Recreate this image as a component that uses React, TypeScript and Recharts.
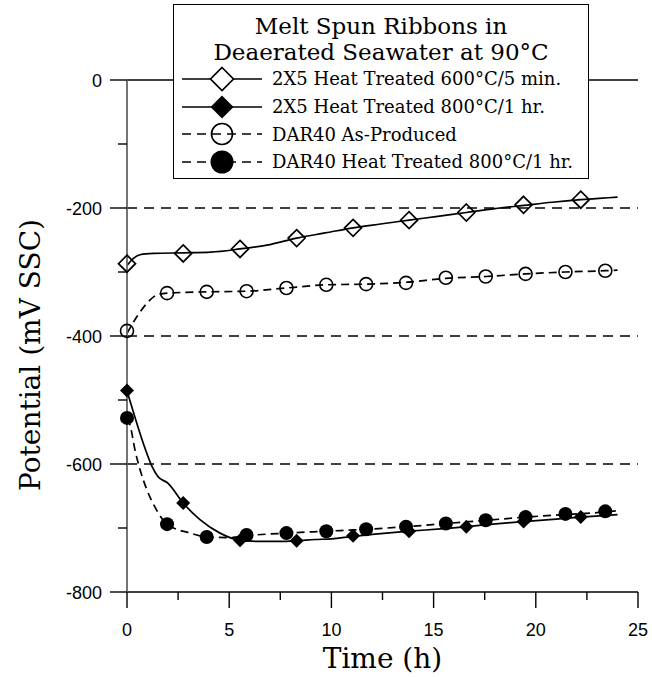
import {
  CartesianGrid,
  ComposedChart,
  Legend,
  Line,
  ReferenceLine,
  Scatter,
  XAxis,
  YAxis
} from "recharts";

// curves (time in h, potential in mV SSC)
const ht600Time = [0, 0.3, 0.64, 1.3, 2.75, 4.1, 5.53, 6.85, 8.3, 9.7, 11.06, 12.4, 13.8, 15.2, 16.6, 18, 19.4, 20.8, 22.2, 23.1, 24];
const ht600Pot = [-290, -279, -273, -271, -270, -269, -264, -258, -247, -239, -231, -225, -219, -213, -207, -201, -196, -191, -187, -185, -183];

const ht800Time = [0, 0.39, 0.8, 1.2, 1.5, 2, 2.75, 3.57, 4.55, 5.5, 6.5, 7.5, 8.3, 9.2, 10, 11.06, 12, 13.8, 15.5, 17.5, 19.4, 21, 22.2, 24];
const ht800Pot = [-486, -527, -568, -602, -619, -630, -661, -687, -708, -719, -721, -721, -720, -718, -717, -713, -710, -705, -701, -695, -690, -686, -683, -679];

const darAsTime = [0, 0.48, 0.97, 1.45, 1.96, 3.9, 5.85, 7.8, 9.75, 11.7, 13.65, 15.6, 17.55, 19.5, 21.45, 23.4, 24];
const darAsPot = [-396, -370, -349, -336, -333, -331, -330, -325, -320, -319, -316, -310, -307, -303, -300, -298, -297];

const darHtTime = [0, 0.15, 0.39, 0.64, 0.97, 1.45, 1.96, 3.1, 3.9, 5, 5.85, 7.8, 9.75, 11.7, 13.65, 15.6, 17.55, 19.5, 21.45, 23.4, 24];
const darHtPot = [-528, -539, -578, -609, -640, -672, -694, -708, -714, -715, -712, -708, -705, -702, -698, -693, -688, -683, -679, -675, -673];

// symbols
const diamondTime = [0, 2.75, 5.53, 8.3, 11.06, 13.8, 16.6, 19.4, 22.2];
const ht600Marks = [-287, -271, -264, -247, -231, -219, -207, -195, -187];
const ht800Marks = [-485, -661, -719, -720, -712, -705, -698, -690, -683];

const circleTime = [0, 1.96, 3.9, 5.85, 7.8, 9.75, 11.7, 13.65, 15.6, 17.55, 19.5, 21.45, 23.4];
const darAsMarks = [-392, -333, -331, -330, -325, -320, -319, -317, -309, -307, -303, -300, -298];
const darHtMarks = [-528, -694, -714, -711, -708, -705, -702, -698, -693, -688, -683, -678, -674];

const xTicks = [0, 2.5, 5, 7.5, 10, 12.5, 15, 17.5, 20, 22.5, 25];
const yTicks = [-800, -700, -600, -500, -400, -300, -200, -100, 0];
const gridValues = [-600, -400, -200];

const legendTitle = ["Melt Spun Ribbons in", "Deaerated Seawater at 90°C"];
const legendLabels = [
  "2X5 Heat Treated 600°C/5 min.",
  "2X5 Heat Treated 800°C/1 hr.",
  "DAR40 As-Produced",
  "DAR40 Heat Treated 800°C/1 hr."
];

const SERIF = "'DejaVu Serif', serif";
const SANS = "'Liberation Sans', Arial, sans-serif";

const pairs = (ts: number[], vs: number[]) => ts.map((t, i) => ({ t, v: vs[i] }));

type Marker = "openDiamond" | "filledDiamond" | "openCircle" | "filledCircle";

function drawMarker(kind: Marker, cx: number, cy: number, big = false) {
  if (kind === "openDiamond") {
    const h = big ? 11.5 : 8.5;
    return <polygon points={`${cx},${cy - h} ${cx + h},${cy} ${cx},${cy + h} ${cx - h},${cy}`} fill={big ? "#fff" : "none"} stroke="#000" strokeWidth={1.7} />;
  }
  if (kind === "filledDiamond") {
    const h = big ? 11.5 : 7;
    return <polygon points={`${cx},${cy - h} ${cx + h},${cy} ${cx},${cy + h} ${cx - h},${cy}`} fill="#000" />;
  }
  if (kind === "openCircle") {
    return <circle cx={cx} cy={cy} r={big ? 10.5 : 6.5} fill="none" stroke="#000" strokeWidth={1.6} />;
  }
  return <circle cx={cx} cy={cy} r={big ? 11.5 : 7} fill="#000" />;
}

const shapeOf = (kind: Marker) => (p: any) => drawMarker(kind, p.cx, p.cy);

const legendKinds: Marker[] = ["openDiamond", "filledDiamond", "openCircle", "filledCircle"];

function LegendBox() {
  return (
    <div
      style={{
        width: 416,
        height: 175,
        boxSizing: "border-box",
        border: "1.5px solid #000",
        background: "#fff",
        fontFamily: SERIF,
        color: "#000"
      }}
    >
      <div style={{ paddingTop: 8, textAlign: "center", fontSize: 23, lineHeight: "26px" }}>
        {legendTitle.map((l) => (
          <div key={l}>{l}</div>
        ))}
      </div>
      {legendLabels.map((label, i) => (
        <div key={label} style={{ display: "flex", alignItems: "center", height: 27.7 }}>
          <svg width={98} height={28} style={{ flex: "none" }}>
            <line x1={8} x2={88} y1={14} y2={14} stroke="#000" strokeWidth={1.6} strokeDasharray={i < 2 ? undefined : "9 6"} />
            {drawMarker(legendKinds[i], 48, 14, true)}
          </svg>
          <span style={{ fontSize: 18, whiteSpace: "nowrap" }}>{label}</span>
        </div>
      ))}
    </div>
  );
}

function LeftTick(props: any) {
  const { x, y, payload } = props;
  const major = payload.value % 200 === 0;
  return (
    <g>
      <line x1={x - (major ? 17 : 9)} x2={x} y1={y} y2={y} stroke="#000" strokeWidth={1.4} />
      {major && (
        <text x={x - 25} y={y + 6.5} textAnchor="end" fontFamily={SANS} fontSize={18} fill="#000">
          {payload.value}
        </text>
      )}
    </g>
  );
}

function RightTick(props: any) {
  const { x, y, payload } = props;
  const major = payload.value % 200 === 0;
  return <line x1={x - (major ? 17 : 9)} x2={x} y1={y} y2={y} stroke="#000" strokeWidth={1.4} />;
}

function BottomTick(props: any) {
  const { x, y, payload } = props;
  const major = payload.value % 5 === 0;
  return (
    <g>
      <line x1={x} x2={x} y1={y} y2={y + (major ? 16 : 8)} stroke="#000" strokeWidth={1.4} />
      {major && (
        <text x={x} y={y + 44} textAnchor="middle" fontFamily={SANS} fontSize={18} fill="#000">
          {payload.value}
        </text>
      )}
    </g>
  );
}

function YTitle() {
  return (
    <text transform="translate(40,355) rotate(-90)" textAnchor="middle" fontFamily={SERIF} fontSize={28} fill="#000">
      Potential (mV SSC)
    </text>
  );
}

export default function App() {
  return (
    <div style={{ position: "absolute", left: 0, top: 0 }}>
      <ComposedChart width={652} height={677} margin={{ top: 80, right: 14, bottom: 0, left: 0 }}>
        <CartesianGrid vertical={false} horizontalValues={gridValues} stroke="#000" strokeWidth={1.3} strokeDasharray="10 7" />
        <XAxis
          type="number"
          dataKey="t"
          domain={[0, 25]}
          ticks={xTicks}
          interval={0}
          height={85}
          tickSize={0}
          tickMargin={0}
          tick={<BottomTick />}
          axisLine={{ stroke: "#000", strokeWidth: 1.6 }}
          label={{ value: "Time (h)", position: "insideBottom", offset: 9, fontFamily: SERIF, fontSize: 28, fill: "#000" }}
        />
        <YAxis
          type="number"
          domain={[-800, 0]}
          ticks={yTicks}
          interval={0}
          width={127}
          tickSize={0}
          tickMargin={0}
          tick={<LeftTick />}
          axisLine={{ stroke: "#666", strokeWidth: 1.8 }}
          label={{ content: <YTitle /> }}
        />
        <YAxis
          yAxisId="right"
          orientation="right"
          type="number"
          domain={[-800, 0]}
          ticks={yTicks}
          interval={0}
          width={0}
          tickSize={0}
          tickMargin={0}
          tick={<RightTick />}
          axisLine={{ stroke: "#000", strokeWidth: 2 }}
        />
        <ReferenceLine y={0} stroke="#000" strokeWidth={1.6} />

        <Line data={pairs(ht600Time, ht600Pot)} dataKey="v" type="monotone" stroke="#000" strokeWidth={1.7} dot={false} isAnimationActive={false} legendType="none" />
        <Line data={pairs(ht800Time, ht800Pot)} dataKey="v" type="monotone" stroke="#000" strokeWidth={1.7} dot={false} isAnimationActive={false} legendType="none" />
        <Line data={pairs(darAsTime, darAsPot)} dataKey="v" type="monotone" stroke="#000" strokeWidth={1.7} strokeDasharray="8 5" dot={false} isAnimationActive={false} legendType="none" />
        <Line data={pairs(darHtTime, darHtPot)} dataKey="v" type="monotone" stroke="#000" strokeWidth={1.7} strokeDasharray="8 5" dot={false} isAnimationActive={false} legendType="none" />

        <Scatter name={legendLabels[0]} data={pairs(diamondTime, ht600Marks)} dataKey="v" shape={shapeOf("openDiamond")} isAnimationActive={false} />
        <Scatter name={legendLabels[1]} data={pairs(diamondTime, ht800Marks)} dataKey="v" shape={shapeOf("filledDiamond")} isAnimationActive={false} />
        <Scatter name={legendLabels[2]} data={pairs(circleTime, darAsMarks)} dataKey="v" shape={shapeOf("openCircle")} isAnimationActive={false} />
        <Scatter name={legendLabels[3]} data={pairs(circleTime, darHtMarks)} dataKey="v" shape={shapeOf("filledCircle")} isAnimationActive={false} />

        <Legend
          layout="vertical"
          align="center"
          verticalAlign="middle"
          content={() => <LegendBox />}
          wrapperStyle={{ left: 173, top: 4, width: 416, height: 175 }}
        />
      </ComposedChart>
    </div>
  );
}
